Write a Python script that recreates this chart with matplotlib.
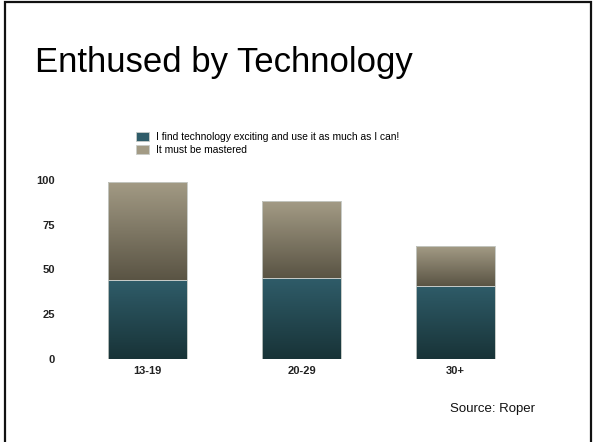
import matplotlib.pyplot as plt
import numpy as np
from matplotlib.colors import LinearSegmentedColormap
from matplotlib.patches import Rectangle

plt.rcParams['font.family'] = ['Liberation Sans', 'DejaVu Sans']

# survey data (percent)
groups = ['13-19', '20-29', '30+']
excited = [44, 45, 41]
mastered = [55, 43, 22]
series_labels = ['I find technology exciting and use it as much as I can!',
                 'It must be mastered']
yticks = [0, 25, 50, 75, 100]

blue_cmap = LinearSegmentedColormap.from_list('blue', ['#183337', '#2f5c69'])
tan_cmap = LinearSegmentedColormap.from_list('tan', ['#5a5444', '#a39b85'])

fig = plt.figure(figsize=(5.94, 4.42), dpi=100)
ax = fig.add_axes([0.1187, 0.1878, 0.7778, 0.405])

x = np.arange(len(groups))
b1 = ax.bar(x, excited, width=0.51, color='#2f5c69', edgecolor='#c9cdc9', linewidth=0.6)
b2 = ax.bar(x, mastered, width=0.51, bottom=excited, color='#a39b85',
            edgecolor='#c9cdc9', linewidth=0.6)

# vertical gradient inside each bar segment
grad = np.linspace(0, 1, 256).reshape(-1, 1)
for bars, cmap in ((b1, blue_cmap), (b2, tan_cmap)):
    for r in bars:
        x0, y0 = r.get_x(), r.get_y()
        im = ax.imshow(grad, cmap=cmap, origin='lower', aspect='auto',
                       extent=(x0, x0 + r.get_width(), y0, y0 + r.get_height()),
                       zorder=r.get_zorder() + 0.1)
        im.set_clip_path(r)
        ax.add_patch(Rectangle((x0, y0), r.get_width(), r.get_height(), fill=False,
                               edgecolor='#c9cdc9', linewidth=0.6,
                               zorder=r.get_zorder() + 0.2))

ax.set_xlim(-0.5, 2.5)
ax.set_ylim(0, 100)
ax.set_yticks(yticks)
ax.set_xticks(x)
ax.set_xticklabels(groups)
ax.tick_params(length=0, labelsize=8, labelcolor='#222222')
ax.tick_params(axis='y', pad=11)
ax.tick_params(axis='x', pad=5)
for lab in ax.get_xticklabels() + ax.get_yticklabels():
    lab.set_fontweight('bold')
for s in ax.spines.values():
    s.set_visible(False)

ax.legend([b1, b2], series_labels, loc='upper left', bbox_to_anchor=(0.221, 0.714),
          bbox_transform=fig.transFigure, frameon=False, fontsize=7.4,
          handlelength=1.2, handleheight=1.0, handletextpad=0.7,
          labelspacing=0.35, borderpad=0)

fig.text(0.059, 0.838, 'Enthused by Technology', fontsize=25, color='black')
fig.text(0.757, 0.068, 'Source: Roper', fontsize=9.5, color='#111111')

# slide frame
fig.add_artist(Rectangle((0.008, -0.05), 0.987, 1.045, transform=fig.transFigure,
                         fill=False, edgecolor='#111111', linewidth=1.6))

fig.savefig('out.png', dpi=100)
